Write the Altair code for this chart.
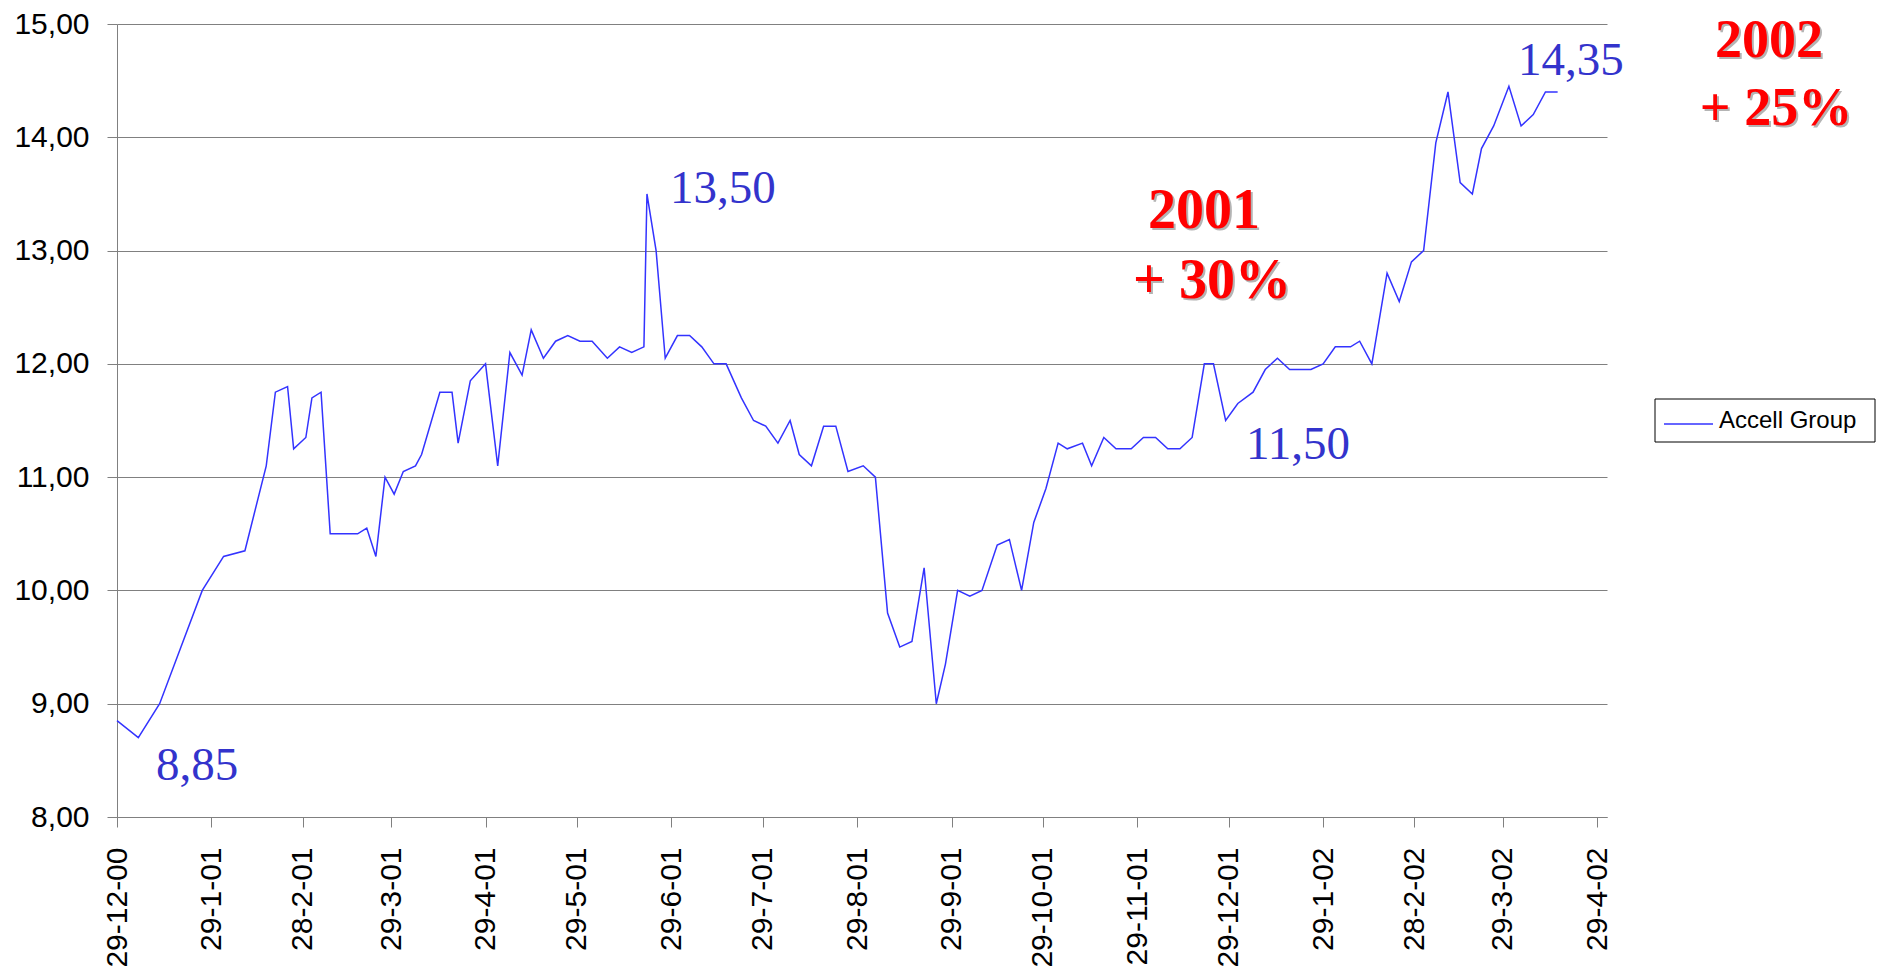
import altair as alt
import pandas as pd

# ---- data ----
start_date = "2000-12-29"
day_offsets = [0, 7, 14, 21, 28, 35, 42, 49, 52, 56,
               58, 62, 64, 67, 70, 75, 79, 82, 85, 88,
               91, 94, 98, 100, 106, 110, 112, 116, 121, 125,
               129, 133, 136, 140, 144, 148, 152, 156, 161, 165,
               169, 173, 174, 177, 180, 184, 188, 192, 196, 200,
               205, 209, 213, 217, 221, 224, 228, 232, 236, 240,
               245, 249, 253, 257, 261, 265, 269, 272, 276, 280,
               284, 289, 293, 297, 301, 305, 309, 312, 317, 320,
               324, 328, 333, 337, 341, 345, 349, 353, 357, 360,
               364, 368, 373, 377, 381, 385, 389, 392, 396, 400,
               405, 408, 412, 417, 421, 425, 429, 433, 437, 441,
               445, 448, 452, 457, 461, 465, 469, 473]
prices = [8.85, 8.70, 9.00, 9.50, 10.00, 10.30, 10.35, 11.10, 11.75, 11.80,
          11.25, 11.35, 11.70, 11.75, 10.50, 10.50, 10.50, 10.55, 10.30, 11.00,
          10.85, 11.05, 11.10, 11.20, 11.75, 11.75, 11.30, 11.85, 12.00, 11.10,
          12.10, 11.90, 12.30, 12.05, 12.20, 12.25, 12.20, 12.20, 12.05, 12.15,
          12.10, 12.15, 13.50, 13.00, 12.05, 12.25, 12.25, 12.15, 12.00, 12.00,
          11.70, 11.50, 11.45, 11.30, 11.50, 11.20, 11.10, 11.45, 11.45, 11.05,
          11.10, 11.00, 9.80, 9.50, 9.55, 10.20, 9.00, 9.35, 10.00, 9.95,
          10.00, 10.40, 10.45, 10.00, 10.60, 10.90, 11.30, 11.25, 11.30, 11.10,
          11.35, 11.25, 11.25, 11.35, 11.35, 11.25, 11.25, 11.35, 12.00, 12.00,
          11.50, 11.65, 11.75, 11.95, 12.05, 11.95, 11.95, 11.95, 12.00, 12.15,
          12.15, 12.20, 12.00, 12.80, 12.55, 12.90, 13.00, 13.95, 14.40, 13.60,
          13.50, 13.90, 14.10, 14.45, 14.10, 14.20, 14.40, 14.40]
series_name = "Accell Group"

y_ticks = [8, 9, 10, 11, 12, 13, 14, 15]
x_tick_dates = [(2000, 12, 29), (2001, 1, 29), (2001, 2, 28), (2001, 3, 29),
                (2001, 4, 29), (2001, 5, 29), (2001, 6, 29), (2001, 7, 29),
                (2001, 8, 29), (2001, 9, 29), (2001, 10, 29), (2001, 11, 29),
                (2001, 12, 29), (2002, 1, 29), (2002, 2, 28), (2002, 3, 29),
                (2002, 4, 29)]

value_labels = ["8,85", "13,50", "11,50", "14,35"]
year_labels = ["2001", "+ 30%", "2002", "+ 25%"]

# ---- build table ----
dates = (pd.Timestamp(start_date) + pd.to_timedelta(day_offsets, unit="D")).strftime("%Y-%m-%d")
df = pd.DataFrame({"date": list(dates), "price": prices, "series": series_name})

W, H = 1490, 793
LINE_COLOR = "#3333FF"
LABEL_BLUE = "#3333CC"
GRID = "#808080"

x_values = [alt.DateTime(year=y, month=m, date=d, utc=True) for (y, m, d) in x_tick_dates]

line = alt.Chart(df).mark_line(color=LINE_COLOR, strokeWidth=1.5).encode(
    x=alt.X("date:T",
            scale=alt.Scale(type="utc",
                            domain=[alt.DateTime(year=2000, month=12, date=29, utc=True),
                                    alt.DateTime(year=2002, month=5, date=2, hours=5, utc=True)]),
            axis=alt.Axis(values=x_values,
                          labelExpr="utcFormat(datum.value, '%-d-%-m-%y')",
                          labelAngle=270, labelFontSize=30, labelFont="Liberation Sans",
                          labelColor="black", labelPadding=20, labelOverlap=False,
                          labelFlush=False, labelBound=False,
                          tickSize=10, tickColor=GRID, domainColor=GRID, grid=False),
            title=None),
    y=alt.Y("price:Q",
            scale=alt.Scale(domain=[8, 15], nice=False, zero=False),
            axis=alt.Axis(values=y_ticks,
                          labelExpr="replace(format(datum.value, '.2f'), '.', ',')",
                          labelFontSize=30, labelFont="Liberation Sans", labelColor="black",
                          labelPadding=18, tickSize=10, tickColor=GRID, domainColor=GRID,
                          grid=True, gridColor=GRID, gridWidth=1),
            title=None),
)

one = pd.DataFrame({"k": [0]})


def txt(text, x, y, size, color, font="Liberation Serif", weight="normal", align="left"):
    return alt.Chart(one).mark_text(
        text=text, fontSize=size, font=font, fontWeight=weight, color=color,
        align=align, baseline="alphabetic"
    ).encode(x=alt.value(x), y=alt.value(y))


# value annotations (blue serif)
ann = [
    txt(value_labels[0], 39, 756, 47, LABEL_BLUE),
    txt(value_labels[1], 553, 179, 47, LABEL_BLUE),
    txt(value_labels[2], 1129, 435, 47, LABEL_BLUE),
    txt(value_labels[3], 1401, 51, 47, LABEL_BLUE),
]

# red yearly annotations with grey shadow
red_pos = [(1087, 204), (1095, 274), (1652, 33), (1659, 101)]
red_size = [56, 56, 54, 54]
shadows = [txt(t, x + 2, y + 2, s, "#B4B4B4", weight="bold", align="center")
           for t, (x, y), s in zip(year_labels, red_pos, red_size)]
reds = [txt(t, x, y, s, "#FF0000", weight="bold", align="center")
        for t, (x, y), s in zip(year_labels, red_pos, red_size)]

# legend box
leg_box = alt.Chart(one).mark_rect(fill="white", stroke="black", strokeWidth=1).encode(
    x=alt.value(1538), x2=alt.value(1758), y=alt.value(375), y2=alt.value(418))
leg_line = alt.Chart(one).mark_rule(color=LINE_COLOR, strokeWidth=1.5).encode(
    x=alt.value(1547), x2=alt.value(1596), y=alt.value(400))
leg_text = txt(series_name, 1602, 404, 24, "black", font="Liberation Sans")

chart = alt.layer(line, *ann, *shadows, *reds, leg_box, leg_line, leg_text).properties(
    width=W, height=H,
    autosize=alt.AutoSizeParams(type="none"),
    padding={"left": 109, "top": 16, "right": 275, "bottom": 150},
    background="white",
).configure_view(stroke=None)

chart.save("out.html", embed_options={"renderer": "svg", "actions": False})
